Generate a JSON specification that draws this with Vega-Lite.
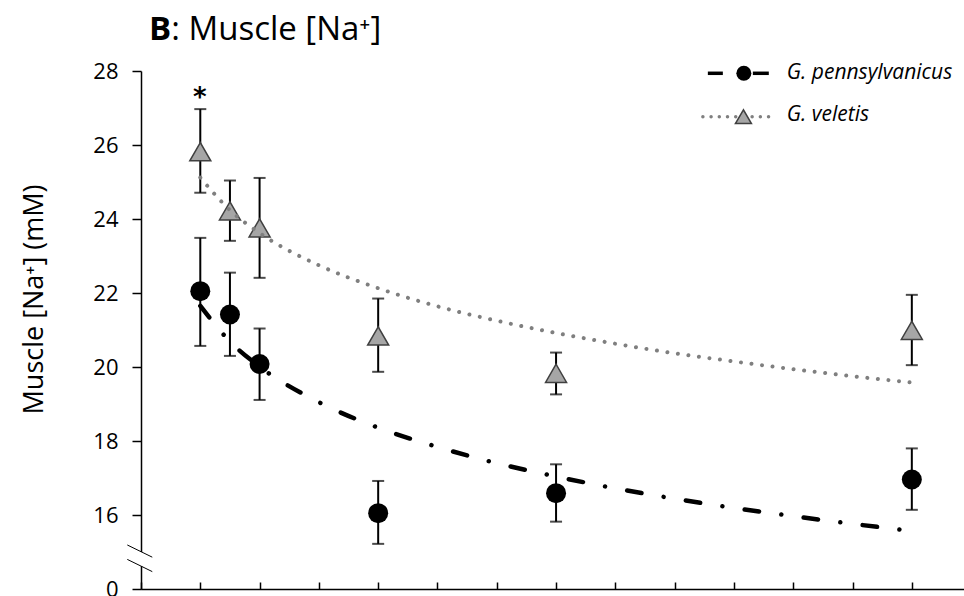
{
  "$schema": "https://vega.github.io/schema/vega-lite/v6.json",
  "width": 823,
  "height": 518,
  "autosize": {"type": "none"},
  "padding": {"left": 141, "top": 71, "right": 0, "bottom": 7},
  "background": "white",
  "config": {
    "view": {"stroke": null},
    "font": "Open Sans",
    "axisX": {"labels": false, "grid": false, "tickSize": -7, "tickColor": "black", "tickWidth": 1.5, "domainColor": "black", "domainWidth": 1.5},
    "axisY": {"grid": false, "tickSize": 9, "tickColor": "black", "tickWidth": 1.5, "domainColor": "black", "domainWidth": 1.5,
      "labelFont": "Open Sans", "labelFontSize": 22, "labelColor": "black", "labelPadding": 14,
      "titleFont": "Open Sans", "titleFontSize": 27, "titleFontWeight": "normal", "titleColor": "black"}
  },
  "datasets": {
    "points": [
      {"series": "G. pennsylvanicus", "x": 1, "y": 22.05, "lo": 20.57, "hi": 23.49},
      {"series": "G. pennsylvanicus", "x": 1.5, "y": 21.42, "lo": 20.30, "hi": 22.55},
      {"series": "G. pennsylvanicus", "x": 2, "y": 20.08, "lo": 19.11, "hi": 21.04},
      {"series": "G. pennsylvanicus", "x": 4, "y": 16.05, "lo": 15.22, "hi": 16.92},
      {"series": "G. pennsylvanicus", "x": 7, "y": 16.59, "lo": 15.82, "hi": 17.37},
      {"series": "G. pennsylvanicus", "x": 13, "y": 16.96, "lo": 16.14, "hi": 17.80},
      {"series": "G. veletis", "x": 1, "y": 25.82, "lo": 24.71, "hi": 26.97},
      {"series": "G. veletis", "x": 1.5, "y": 24.22, "lo": 23.41, "hi": 25.04},
      {"series": "G. veletis", "x": 2, "y": 23.76, "lo": 22.41, "hi": 25.11},
      {"series": "G. veletis", "x": 4, "y": 20.84, "lo": 19.87, "hi": 21.85},
      {"series": "G. veletis", "x": 7, "y": 19.83, "lo": 19.26, "hi": 20.39},
      {"series": "G. veletis", "x": 13, "y": 20.99, "lo": 20.05, "hi": 21.95}
    ],
    "trendV": [
      {"x": 1, "y": 25.12}, {"x": 1.5, "y": 24.24}, {"x": 2, "y": 23.62}, {"x": 3, "y": 22.75},
      {"x": 4, "y": 22.13}, {"x": 5, "y": 21.64}, {"x": 6, "y": 21.25}, {"x": 7, "y": 20.92},
      {"x": 8, "y": 20.63}, {"x": 9, "y": 20.37}, {"x": 10, "y": 20.15}, {"x": 11, "y": 19.94},
      {"x": 12, "y": 19.75}, {"x": 13, "y": 19.58}
    ],
    "trendP": [
      {"x": 1, "y": 21.65}, {"x": 1.5, "y": 20.69}, {"x": 2, "y": 20.01}, {"x": 3, "y": 19.05},
      {"x": 4, "y": 18.36}, {"x": 5, "y": 17.84}, {"x": 6, "y": 17.40}, {"x": 7, "y": 17.04},
      {"x": 8, "y": 16.72}, {"x": 9, "y": 16.44}, {"x": 10, "y": 16.19}, {"x": 11, "y": 15.97},
      {"x": 12, "y": 15.76}, {"x": 13, "y": 15.57}
    ],
    "one": [{"k": 1}]
  },
  "layer": [
    {
      "data": {"name": "points"},
      "mark": {"type": "rule", "color": "black", "strokeWidth": 2},
      "encoding": {
        "x": {"field": "x", "type": "quantitative",
          "scale": {"domain": [0, 13.88], "nice": false, "zero": false},
          "axis": {"title": null, "values": [0,1,2,3,4,5,6,7,8,9,10,11,12,13]}},
        "y": {"field": "lo", "type": "quantitative",
          "scale": {"domain": [14, 28], "nice": false, "zero": false},
          "axis": {"title": "Muscle [Na⁺] (mM)", "values": [14,16,18,20,22,24,26,28],
            "labelExpr": "datum.value == 14 ? '0' : datum.label",
            "titleX": -99, "titleY": 228, "titleAngle": 270, "titleAlign": "center", "titleBaseline": "alphabetic"}},
        "y2": {"field": "hi"}
      }
    },
    {
      "data": {"name": "points"},
      "mark": {"type": "tick", "orient": "horizontal", "color": "black", "size": 12, "thickness": 2},
      "encoding": {
        "x": {"field": "x", "type": "quantitative"},
        "y": {"field": "lo", "type": "quantitative"}
      }
    },
    {
      "data": {"name": "points"},
      "mark": {"type": "tick", "orient": "horizontal", "color": "black", "size": 12, "thickness": 2},
      "encoding": {
        "x": {"field": "x", "type": "quantitative"},
        "y": {"field": "hi", "type": "quantitative"}
      }
    },
    {
      "data": {"name": "points"},
      "transform": [{"filter": "datum.series == 'G. pennsylvanicus'"}],
      "mark": {"type": "point", "shape": "circle", "filled": true, "color": "black", "size": 400, "opacity": 1},
      "encoding": {
        "x": {"field": "x", "type": "quantitative"},
        "y": {"field": "y", "type": "quantitative"}
      }
    },
    {
      "data": {"name": "points"},
      "transform": [{"filter": "datum.series == 'G. veletis'"}],
      "mark": {"type": "point", "shape": "triangle-up", "filled": true, "fill": "#a6a6a6", "stroke": "#404040", "strokeWidth": 1.5, "size": 441, "opacity": 1},
      "encoding": {
        "x": {"field": "x", "type": "quantitative"},
        "y": {"field": "y", "type": "quantitative"}
      }
    },
    {
      "data": {"name": "trendV"},
      "mark": {"type": "line", "color": "#7f7f7f", "strokeWidth": 4, "strokeCap": "round", "strokeDash": [0.01, 10.6], "interpolate": "monotone"},
      "encoding": {
        "x": {"field": "x", "type": "quantitative"},
        "y": {"field": "y", "type": "quantitative"}
      }
    },
    {
      "data": {"name": "trendP"},
      "mark": {"type": "line", "color": "black", "strokeWidth": 4.5, "strokeCap": "round", "strokeDash": [14.5, 22.5, 0.01, 22.5], "interpolate": "monotone"},
      "encoding": {
        "x": {"field": "x", "type": "quantitative"},
        "y": {"field": "y", "type": "quantitative"}
      }
    },
    {
      "data": {"name": "one"},
      "mark": {"type": "text", "font": "DejaVu Sans", "fontSize": 26, "fontWeight": "bold", "color": "black", "align": "center", "baseline": "alphabetic"},
      "encoding": {
        "x": {"datum": 0.99, "type": "quantitative"},
        "y": {"datum": 27.06, "type": "quantitative"},
        "text": {"value": "*"}
      }
    },
    {
      "data": {"name": "one"},
      "mark": {"type": "text", "font": "Open Sans", "fontSize": 33, "fontWeight": "bold", "color": "black", "align": "right", "baseline": "alphabetic"},
      "encoding": {
        "x": {"datum": 0.51, "type": "quantitative"},
        "y": {"datum": 28.838, "type": "quantitative"},
        "text": {"value": "B"}
      }
    },
    {
      "data": {"name": "one"},
      "mark": {"type": "text", "font": "Open Sans", "fontSize": 33, "fontWeight": "normal", "color": "black", "align": "left", "baseline": "alphabetic"},
      "encoding": {
        "x": {"datum": 0.51, "type": "quantitative"},
        "y": {"datum": 28.838, "type": "quantitative"},
        "text": {"value": ": Muscle [Na⁺]"}
      }
    },
    {
      "data": {"name": "one"},
      "mark": {"type": "rule", "color": "black", "strokeWidth": 3.5},
      "encoding": {
        "x": {"datum": 9.56, "type": "quantitative"},
        "x2": {"datum": 9.813},
        "y": {"datum": 27.938, "type": "quantitative"}
      }
    },
    {
      "data": {"name": "one"},
      "mark": {"type": "rule", "color": "black", "strokeWidth": 3.5},
      "encoding": {
        "x": {"datum": 10.319, "type": "quantitative"},
        "x2": {"datum": 10.588},
        "y": {"datum": 27.938, "type": "quantitative"}
      }
    },
    {
      "data": {"name": "one"},
      "mark": {"type": "point", "shape": "circle", "filled": true, "color": "black", "size": 225, "opacity": 1},
      "encoding": {
        "x": {"datum": 10.167, "type": "quantitative"},
        "y": {"datum": 27.938, "type": "quantitative"}
      }
    },
    {
      "data": {"name": "one"},
      "mark": {"type": "rule", "color": "#7f7f7f", "strokeWidth": 3.5, "strokeCap": "round", "strokeDash": [0.01, 8.2]},
      "encoding": {
        "x": {"datum": 9.476, "type": "quantitative"},
        "x2": {"datum": 10.69},
        "y": {"datum": 26.765, "type": "quantitative"}
      }
    },
    {
      "data": {"name": "one"},
      "mark": {"type": "point", "shape": "triangle-up", "filled": true, "fill": "#a6a6a6", "stroke": "#404040", "strokeWidth": 1.5, "size": 256, "opacity": 1},
      "encoding": {
        "x": {"datum": 10.16, "type": "quantitative"},
        "y": {"datum": 26.765, "type": "quantitative"}
      }
    },
    {
      "data": {"name": "one"},
      "mark": {"type": "text", "font": "Open Sans", "fontSize": 21, "fontStyle": "italic", "color": "black", "align": "left", "baseline": "alphabetic"},
      "encoding": {
        "x": {"datum": 10.892, "type": "quantitative"},
        "y": {"datum": 27.79, "type": "quantitative"},
        "text": {"value": "G. pennsylvanicus"}
      }
    },
    {
      "data": {"name": "one"},
      "mark": {"type": "text", "font": "Open Sans", "fontSize": 21, "fontStyle": "italic", "color": "black", "align": "left", "baseline": "alphabetic"},
      "encoding": {
        "x": {"datum": 10.892, "type": "quantitative"},
        "y": {"datum": 26.66, "type": "quantitative"},
        "text": {"value": "G. veletis"}
      }
    },
    {
      "data": {"name": "one"},
      "mark": {"type": "rect", "color": "white"},
      "encoding": {
        "x": {"datum": -0.06, "type": "quantitative"},
        "x2": {"datum": 0.06},
        "y": {"datum": 15.0, "type": "quantitative"},
        "y2": {"datum": 14.62}
      }
    },
    {
      "data": {"name": "one"},
      "mark": {"type": "rule", "color": "black", "strokeWidth": 1},
      "encoding": {
        "x": {"datum": -0.231, "type": "quantitative"},
        "x2": {"datum": 0.19},
        "y": {"datum": 15.19, "type": "quantitative"},
        "y2": {"datum": 14.86}
      }
    },
    {
      "data": {"name": "one"},
      "mark": {"type": "rule", "color": "black", "strokeWidth": 1},
      "encoding": {
        "x": {"datum": -0.231, "type": "quantitative"},
        "x2": {"datum": 0.19},
        "y": {"datum": 14.80, "type": "quantitative"},
        "y2": {"datum": 14.47}
      }
    }
  ]
}
